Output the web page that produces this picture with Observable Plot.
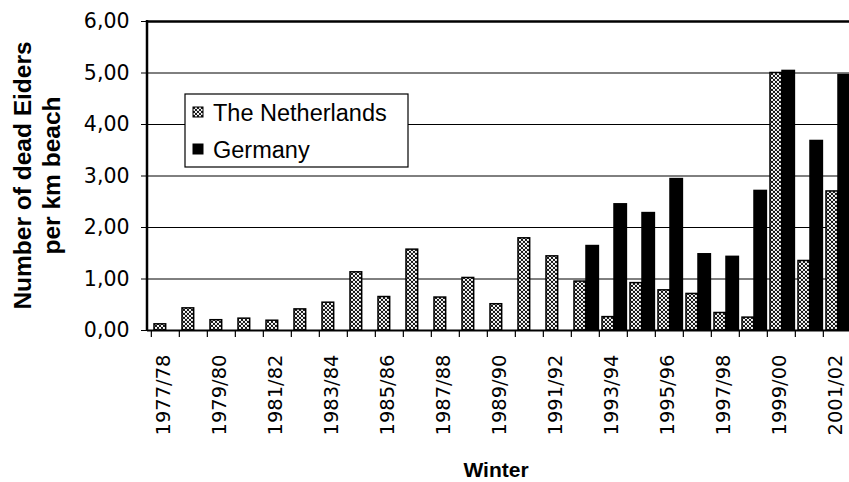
<!DOCTYPE html>
<html>
<head>
<meta charset="utf-8">
<script src="https://cdn.jsdelivr.net/npm/d3@7"></script>
<script src="https://cdn.jsdelivr.net/npm/@observablehq/plot@0.6"></script>
<style>
  body { margin: 0; background: #fff; overflow: hidden; }
  #chart { position: relative; width: 849px; height: 482px; }
</style>
</head>
<body>
<div id="chart"></div>
<script>
// ---- Data ----
const winters = [
  "1977/78", "1978/79", "1979/80", "1980/81", "1981/82", "1982/83", "1983/84",
  "1984/85", "1985/86", "1986/87", "1987/88", "1988/89", "1989/90", "1990/91",
  "1991/92", "1992/93", "1993/94", "1994/95", "1995/96", "1996/97", "1997/98",
  "1998/99", "1999/00", "2000/01", "2001/02"
];
const netherlands = [
  0.12, 0.43, 0.20, 0.23, 0.19, 0.41, 0.54,
  1.13, 0.65, 1.57, 0.64, 1.02, 0.51, 1.79,
  1.44, 0.95, 0.26, 0.92, 0.78, 0.71, 0.34,
  0.25, 5.00, 1.35, 2.70
];
const germany = [
  null, null, null, null, null, null, null,
  null, null, null, null, null, null, null,
  null, 1.64, 2.45, 2.28, 2.94, 1.48, 1.43,
  2.71, 5.04, 3.68, 4.96
];
const seriesNames = ["The Netherlands", "Germany"];
const yTicks = [0, 1, 2, 3, 4, 5, 6];
const labeledWinters = winters.filter((d, i) => i % 2 === 0);
const yTitleLines = ["Number of dead Eiders", "per km beach"];
const xTitle = "Winter";

// ---- Table built from the arrays ----
const rows = winters.map((w, i) => ({ winter: w, nl: netherlands[i], de: germany[i] }));

// ---- Layout ----
const W = 849, H = 482;
const xRange = [147, 855];           // plot area runs past the right edge (cropped in the reference)
const bw = (xRange[1] - xRange[0]) / winters.length;
const FONT = "'Liberation Sans', Arial, Helvetica, sans-serif";
const WIDEFONT = "'DejaVu Sans', 'Liberation Sans', sans-serif";

const plot = Plot.plot({
  width: W,
  height: H,
  marginLeft: 147,
  marginRight: 0,
  marginTop: 21,
  marginBottom: 152,
  style: { background: "#fff", fontFamily: FONT, color: "#000", overflow: "hidden" },
  x: { domain: winters, range: xRange, padding: 0, axis: null },
  y: { domain: [0, 6], axis: null },
  marks: [
    Plot.ruleY(yTicks.filter(v => v > 0 && v < 6), { stroke: "#000", strokeWidth: 1 }),
    Plot.barY(rows.filter(d => d.nl != null), {
      x: "winter", y: "nl", fill: "url(#nlDots)", stroke: "#000", strokeWidth: 1.5,
      insetLeft: 3, insetRight: bw - 15
    }),
    Plot.barY(rows.filter(d => d.de != null), {
      x: "winter", y: "de", fill: "#000", stroke: "#000", strokeWidth: 1.5,
      insetLeft: 15, insetRight: 0.6
    }),
    Plot.ruleY([6], { stroke: "#000", strokeWidth: 2.5 }),
    Plot.ruleY([0], { stroke: "#000", strokeWidth: 2 }),
    Plot.axisY({
      ticks: yTicks, tickSize: 6, tickPadding: 12, fontSize: 20.5, label: null,
      tickFormat: v => v.toFixed(2).replace(".", ",")
    }),
    Plot.ruleX(winters, { x: d => d, y1: 0, y2: 0, insetBottom: -7, dx: -bw / 2, stroke: "#000", strokeWidth: 1.2 }),
    Plot.axisX({
      ticks: labeledWinters, tickSize: 0, tickPadding: 24, tickRotate: -90, fontSize: 19.5, dx: -2, label: null
    })
  ]
});

document.getElementById("chart").appendChild(plot);

const svg = d3.select(plot);
const yScale = plot.scale("y");
const xScale = plot.scale("x");

// axis label fonts (wide sans, as in the reference)
svg.selectAll('[aria-label="y-axis tick label"], [aria-label="y-axis tick label"] text')
  .attr("font-size", 20.5).attr("font-family", WIDEFONT);
svg.selectAll('[aria-label="x-axis tick label"], [aria-label="x-axis tick label"] text')
  .attr("font-size", 19.5).attr("font-family", WIDEFONT);

// pattern for the Netherlands bars (white dots on black)
const defs = svg.insert("defs", ":first-child");
const pat = defs.append("pattern")
  .attr("id", "nlDots").attr("patternUnits", "userSpaceOnUse")
  .attr("width", 4).attr("height", 4);
pat.append("rect").attr("width", 4).attr("height", 4).attr("fill", "#000");
[[0, 0], [4, 0], [0, 4], [4, 4], [2, 2]].forEach(([cx, cy]) =>
  pat.append("circle").attr("cx", cx).attr("cy", cy).attr("r", 1.15).attr("fill", "#fff"));

// left axis line
const x0 = xScale.range[0];
svg.append("line")
  .attr("x1", x0).attr("x2", x0)
  .attr("y1", yScale.apply(0) + 1).attr("y2", yScale.apply(6) - 1)
  .attr("stroke", "#000").attr("stroke-width", 2.5);

// y title (two lines)
const yMid = (yScale.apply(0) + yScale.apply(6)) / 2;
[31, 60].forEach((bx, i) => {
  svg.append("text")
    .attr("transform", `translate(${bx},${yMid}) rotate(-90)`)
    .attr("text-anchor", "middle")
    .attr("font-family", FONT).attr("font-weight", "bold").attr("font-size", 24.5)
    .attr("fill", "#000")
    .text(yTitleLines[i]);
});

// x title
svg.append("text")
  .attr("x", 496).attr("y", 477)
  .attr("text-anchor", "middle")
  .attr("font-family", FONT).attr("font-weight", "bold").attr("font-size", 21)
  .attr("fill", "#000")
  .text(xTitle);

// legend
const lg = svg.append("g").attr("fill", "#000");
lg.append("rect").attr("x", 185).attr("y", 94).attr("width", 223).attr("height", 73)
  .attr("fill", "#fff").attr("stroke", "#000").attr("stroke-width", 1.2);
const swFill = ["url(#nlDots)", "#000"];
const rowY = [107, 144];
seriesNames.forEach((name, i) => {
  lg.append("rect").attr("x", 193).attr("y", rowY[i]).attr("width", 10).attr("height", 10)
    .attr("fill", swFill[i]).attr("stroke", "#000").attr("stroke-width", 1);
  lg.append("text").attr("x", 213).attr("y", rowY[i] + 13.5)
    .attr("text-anchor", "start")
    .attr("font-family", FONT).attr("font-size", 23.5)
    .text(name);
});
</script>
</body>
</html>
